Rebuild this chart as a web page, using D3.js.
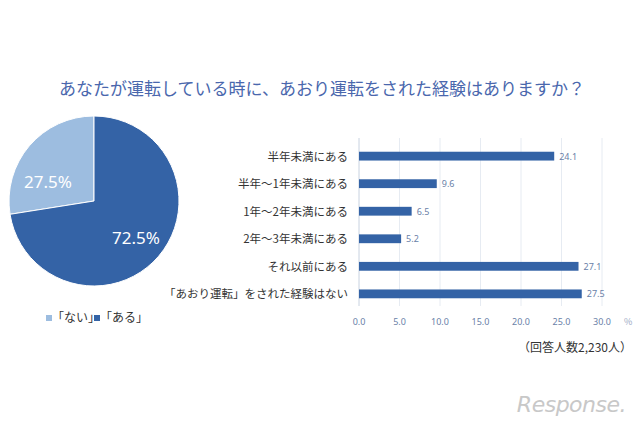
<!DOCTYPE html>
<html lang="ja">
<head>
<meta charset="UTF-8" />
<script src="https://d3js.org/d3.v7.min.js"></script>
<style>
body { margin: 0; background: #fff; font-family: "Noto Sans CJK JP", sans-serif; }
svg { display: block; }
</style>
</head>
<body>
<svg width="640" height="426"></svg>
<script>
const pieLabels = ["「ない」", "「ある」"];
const pieValues = [27.5, 72.5];
const pieColors = ["#9dbde0", "#3463a6"];

const barCats = ["半年未満にある", "半年～1年未満にある", "1年～2年未満にある", "2年～3年未満にある", "それ以前にある", "「あおり運転」をされた経験はない"];
const barValues = [24.1, 9.6, 6.5, 5.2, 27.1, 27.5];
const xTicks = [0, 5, 10, 15, 20, 25, 30];

const svg = d3.select("svg");
const navy = "#3463a6";

svg.append("text")
    .attr("x", 322).attr("y", 95)
    .attr("text-anchor", "middle")
    .attr("font-size", 17)
    .attr("fill", "#4a67ad")
    .text("あなたが運転している時に、あおり運転をされた経験はありますか？");

// pie
const pg = svg.append("g").attr("transform", "translate(94,201)");
const r = 85;
const pie = d3.pie().sort(null).value(d => d).startAngle(-Math.PI * 2 * 0.275).endAngle(Math.PI * 2 * 0.725);
const arc = d3.arc().innerRadius(0).outerRadius(r);
const arcs = pie(pieValues);
pg.selectAll("path").data(arcs).enter().append("path")
    .attr("d", arc)
    .attr("fill", (d, i) => pieColors[i])
    .attr("stroke", "#fff").attr("stroke-width", 1);
const labelPos = [[-46, -13], [42, 43]];
pg.selectAll(".pl").data(arcs).enter().append("text")
    .attr("x", (d, i) => labelPos[i][0]).attr("y", (d, i) => labelPos[i][1])
    .attr("text-anchor", "middle")
    .attr("font-size", 17)
    .attr("font-family", "Noto Sans, sans-serif")
    .attr("fill", "#fff")
    .text(d => d.data.toFixed(1) + "%");

// legend
const lg = svg.append("g").attr("transform", "translate(46,322)");
let lx = 0;
pieLabels.forEach((l, i) => {
    lg.append("rect").attr("x", lx).attr("y", -7).attr("width", 6).attr("height", 6).attr("fill", pieColors[i]);
    lg.append("text").attr("x", lx + 6).attr("y", 0).attr("font-size", 12).attr("fill", "#333").text(l);
    lx += 48;
});

// bars
const x = d3.scaleLinear().domain([0, 30]).range([359, 602]);
const y = d3.scaleBand().domain(barCats).range([133, 317]).padding(0.68);

svg.append("g").selectAll("line").data(xTicks.slice(1)).enter().append("line")
    .attr("x1", d => x(d)).attr("x2", d => x(d))
    .attr("y1", 138).attr("y2", 306)
    .attr("stroke", "#e6ebf2").attr("stroke-width", 1);
svg.append("line").attr("x1", x(0)).attr("x2", x(0)).attr("y1", 138).attr("y2", 306)
    .attr("stroke", "#c8d2e0");

svg.append("g").selectAll("rect").data(barValues).enter().append("rect")
    .attr("x", x(0))
    .attr("y", (d, i) => y(barCats[i]))
    .attr("width", d => x(d) - x(0))
    .attr("height", y.bandwidth())
    .attr("fill", navy);

svg.append("g").selectAll("text").data(barValues).enter().append("text")
    .attr("x", d => x(d) + 5)
    .attr("y", (d, i) => y(barCats[i]) + y.bandwidth() / 2 + 3.5)
    .attr("font-size", 9)
    .attr("font-family", "Noto Sans, sans-serif")
    .attr("fill", "#6a7fa8")
    .text(d => d.toFixed(1));

svg.append("g").selectAll("text").data(barCats).enter().append("text")
    .attr("x", 348)
    .attr("y", d => y(d) + y.bandwidth() / 2 + 4.5)
    .attr("text-anchor", "end")
    .attr("font-size", 11.5)
    .attr("fill", "#333")
    .text(d => d);

svg.append("g").selectAll("text").data(xTicks).enter().append("text")
    .attr("x", d => x(d))
    .attr("y", 325)
    .attr("text-anchor", "middle")
    .attr("font-size", 9)
    .attr("font-family", "Noto Sans, sans-serif")
    .attr("fill", "#6a7fa8")
    .text(d => d.toFixed(1));
svg.append("text").attr("x", 624).attr("y", 325).attr("font-size", 9).attr("fill", "#9aa8c4").text("%");

svg.append("text").attr("x", 632).attr("y", 352).attr("text-anchor", "end")
    .attr("font-size", 12).attr("fill", "#333").text("（回答人数2,230人）");

// watermark
svg.append("text").attr("x", 626).attr("y", 412).attr("text-anchor", "end")
    .attr("font-size", 22).attr("font-style", "italic").attr("font-family", "DejaVu Sans, sans-serif")
    .attr("fill", "#c8c8c8").attr("letter-spacing", -0.5).text("Response.");
</script>
</body>
</html>
